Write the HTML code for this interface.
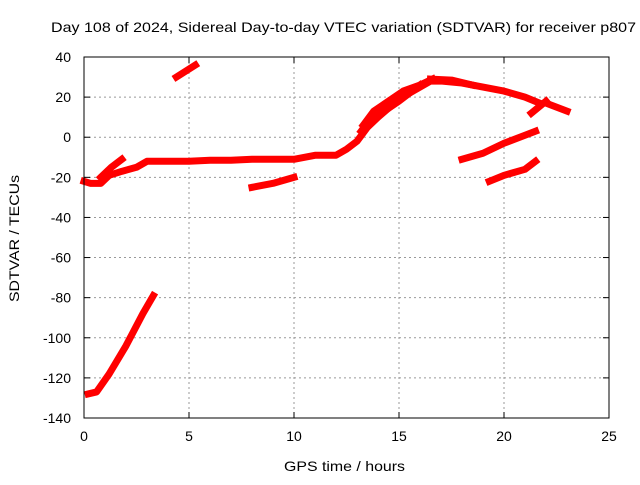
<!DOCTYPE html>
<html><head><meta charset="utf-8"><style>
body{margin:0;background:#fff}
svg text{font-family:"Liberation Sans",sans-serif;font-size:14px;fill:#000}
</style></head><body>
<svg id="chart" width="640" height="480" xmlns="http://www.w3.org/2000/svg">
<text x="51" y="32" textLength="585" lengthAdjust="spacingAndGlyphs">Day 108 of 2024, Sidereal Day-to-day VTEC variation (SDTVAR) for receiver p807</text>
<text x="284" y="471" textLength="121" lengthAdjust="spacingAndGlyphs">GPS time / hours</text>
<text transform="translate(19,302) rotate(-90)" textLength="127" lengthAdjust="spacingAndGlyphs">SDTVAR / TECUs</text>
<g id="grid"></g><g id="ticks"></g><g id="series"></g>
<rect x="84" y="57" width="525" height="361" fill="none" stroke="#000" stroke-width="1"/>
</svg>
<script>
const xTicks=[0,5,10,15,20,25];
const yTicks=[40,20,0,-20,-40,-60,-80,-100,-120,-140];
const segHours=[
 [4.4,5.3],
 [0.2,0.6,1.2,2,2.8,3.3],
 [0,0.3,0.8,1.2,1.8,2.5,3,4,5,6,7,8,9,10,11,12,12.5,13,13.5,14,15,16,16.5,17,18,19,20,21,21.7],
 [0.8,1.3,1.8],
 [13.2,13.7,14.2],
 [13.3,13.8,14.5,15.2,16,16.6],
 [14.3,15,15.5,16],
 [16.5,17.5,18.5],
 [8,9,10],
 [21.3,22],
 [22,23],
 [18,19,20,21,21.5],
 [19.3,20,21,21.5]
];
const segValues=[
 [30,36],
 [-128,-127,-118,-104,-88,-79],
 [-22,-23,-23,-19,-17,-15,-12,-12,-12,-11.5,-11.5,-11,-11,-11,-9,-9,-6,-2,5,10,19,25,28,28,27,25,23,20,17],
 [-20,-15,-11],
 [3,10,15],
 [6,13,18,23,26,29],
 [13,18,22,26],
 [29,28.5,26],
 [-25,-23,-20],
 [12,18],
 [17,13],
 [-11,-8,-3,1,3],
 [-22,-19,-16,-12]
];
const X=h=>84+h*21, Y=v=>57+(40-v)*361/180;
const NS="http://www.w3.org/2000/svg";
const grid=document.getElementById('grid'), ticks=document.getElementById('ticks'), ser=document.getElementById('series');
function mk(tag,attrs,parent){const e=document.createElementNS(NS,tag);for(const k in attrs)e.setAttribute(k,attrs[k]);parent.appendChild(e);return e;}
xTicks.forEach(t=>{
 const x=X(t);
 if(t>0&&t<25){const g=mk('line',{x1:x,x2:x,y1:57,y2:418,stroke:'#999','stroke-dasharray':'2,3'},grid);
 
 }
 mk('line',{x1:x,x2:x,y1:418,y2:412,stroke:'#000'},ticks);
 mk('line',{x1:x,x2:x,y1:57,y2:63,stroke:'#000'},ticks);
 const l=mk('text',{x:x,y:441,'text-anchor':'middle'},ticks);l.textContent=t;
 
 
});
yTicks.forEach(t=>{
 const y=Y(t);
 if(t<40&&t>-140){const g=mk('line',{x1:84,x2:609,y1:y,y2:y,stroke:'#999','stroke-dasharray':'2,3'},grid);
 
 }
 mk('line',{x1:84,x2:90,y1:y,y2:y,stroke:'#000'},ticks);
 mk('line',{x1:603,x2:609,y1:y,y2:y,stroke:'#000'},ticks);
 const l=mk('text',{x:71,y:y+5,'text-anchor':'end'},ticks);l.textContent=t;
 
 
});
segHours.forEach((hs,i)=>{
 const pts=hs.map((h,j)=>X(h)+','+Y(segValues[i][j])).join(' ');
 const p=mk('polyline',{points:pts,fill:'none',stroke:'#f00','stroke-width':7,'stroke-linejoin':'round','stroke-linecap':'square'},ser);
 
 
});
</script>
</body></html>
